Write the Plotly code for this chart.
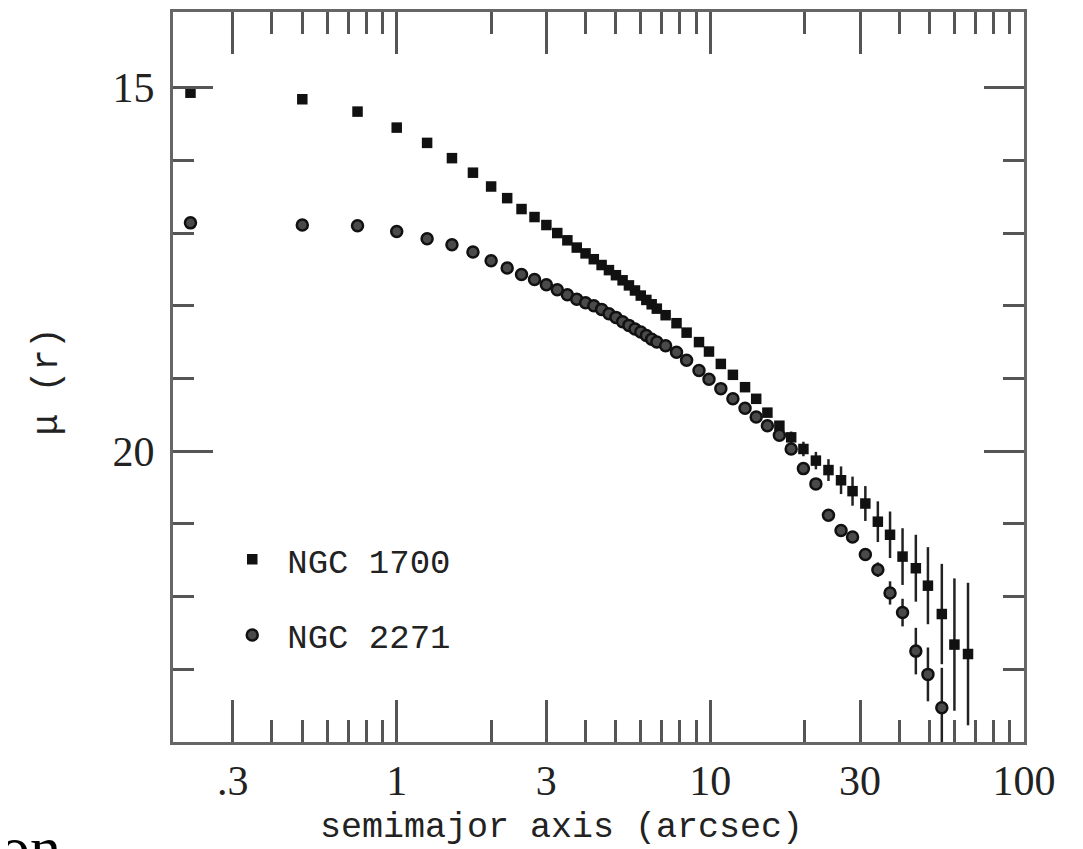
import plotly.graph_objects as go

# ---------------- data ----------------
radius_1700 = [0.22, 0.5, 0.75, 1.0, 1.25, 1.5, 1.75, 2.0, 2.25, 2.5, 2.75, 3.0, 3.25,
               3.5, 3.75, 4.0, 4.25, 4.5, 4.75, 5.0, 5.25, 5.5, 5.75, 6.0, 6.25, 6.5, 6.75,
               7.2, 7.8, 8.4, 9.2, 9.9, 10.8, 11.8, 12.9, 14.0, 15.2, 16.6, 18.1, 19.8,
               21.7, 23.8, 26.1, 28.4, 31.2, 34.2, 37.4, 41.0, 45.2, 49.4, 54.7, 60.0, 66.3]
mu_1700 = [15.07, 15.16, 15.33, 15.55, 15.76, 15.97, 16.17, 16.36, 16.52, 16.67, 16.78, 16.89, 17.00,
           17.10, 17.20, 17.28, 17.36, 17.44, 17.51, 17.58, 17.65, 17.72, 17.79, 17.86, 17.92, 17.98, 18.04,
           18.13, 18.24, 18.37, 18.50, 18.63, 18.80, 18.95, 19.12, 19.28, 19.47, 19.65, 19.81, 19.97,
           20.13, 20.26, 20.40, 20.55, 20.72, 20.97, 21.15, 21.45, 21.61, 21.85, 22.24, 22.66, 22.79]
err_1700 = [0, 0, 0, 0, 0, 0, 0, 0, 0, 0, 0, 0, 0,
            0, 0, 0, 0, 0, 0, 0, 0, 0, 0, 0, 0, 0, 0,
            0, 0, 0, 0, 0, 0, 0, 0, 0, 0, 0.06, 0.08, 0.10,
            0.12, 0.15, 0.19, 0.20, 0.24, 0.28, 0.32, 0.39, 0.46, 0.53, 0.69, 0.91, 0.98]

radius_2271 = [0.22, 0.5, 0.75, 1.0, 1.25, 1.5, 1.75, 2.0, 2.25, 2.5, 2.75, 3.0, 3.25,
               3.5, 3.75, 4.0, 4.25, 4.5, 4.75, 5.0, 5.25, 5.5, 5.75, 6.0, 6.25, 6.5, 6.75,
               7.2, 7.8, 8.4, 9.2, 9.9, 10.8, 11.8, 12.9, 14.0, 15.2, 16.6, 18.1, 19.8,
               21.7, 23.8, 26.1, 28.4, 31.2, 34.2, 37.4, 41.0, 45.2, 49.4, 54.7]
mu_2271 = [16.86, 16.89, 16.90, 16.98, 17.08, 17.16, 17.26, 17.38, 17.48, 17.57, 17.64, 17.71, 17.78,
           17.85, 17.91, 17.96, 18.00, 18.05, 18.11, 18.16, 18.22, 18.27, 18.32, 18.36, 18.41, 18.46, 18.50,
           18.55, 18.64, 18.75, 18.89, 19.01, 19.14, 19.28, 19.41, 19.53, 19.65, 19.78, 19.97, 20.24,
           20.45, 20.88, 21.09, 21.18, 21.42, 21.63, 21.95, 22.22, 22.75, 23.07, 23.53]
err_2271 = [0, 0, 0, 0, 0, 0, 0, 0, 0, 0, 0, 0, 0,
            0, 0, 0, 0, 0, 0, 0, 0, 0, 0, 0, 0, 0, 0,
            0, 0, 0, 0, 0, 0, 0, 0, 0, 0, 0, 0, 0,
            0, 0, 0, 0, 0.06, 0.10, 0.16, 0.19, 0.32, 0.37, 0.55]

x_tick_vals = [0.3, 1, 3, 10, 30, 100]
x_tick_text = [".3", "1", "3", "10", "30", "100"]
x_minor_vals = [0.4, 0.5, 0.6, 0.7, 0.8, 0.9, 2, 4, 5, 6, 7, 8, 9, 20, 40, 50, 60, 70, 80, 90]
y_tick_vals = [15, 20]
y_tick_text = ["15", "20"]
y_minor_vals = [16, 17, 18, 19, 21, 22, 23]

# ---------------- figure ----------------
INK = "#111111"
AXC = "#666666"
TICKC = "#555555"
SERIF = "Liberation Serif"
MONO = "Liberation Mono"

# the page body adds an 8 px offset, so margins are reduced by 8 px
fig = go.Figure()

fig.add_trace(go.Scatter(
    x=radius_1700, y=mu_1700, mode="markers", name="NGC 1700",
    marker=dict(symbol="square", size=10.5, color=INK, line=dict(width=0)),
    error_y=dict(type="data", array=err_1700, visible=True, thickness=2.5, width=0, color="#222222"),
    legend="legend",
))
fig.add_trace(go.Scatter(
    x=radius_2271, y=mu_2271, mode="markers", name="NGC 2271",
    marker=dict(symbol="circle", size=11, color="#4a4a4a", line=dict(width=2.5, color=INK)),
    error_y=dict(type="data", array=err_2271, visible=True, thickness=2.5, width=0, color="#222222"),
    legend="legend2",
))

legend_common = dict(
    font=dict(family=MONO, size=34, color="#222222"),
    bgcolor="rgba(0,0,0,0)", borderwidth=0, itemwidth=60,
    xanchor="left", yanchor="middle",
)

fig.update_layout(
    width=1083, height=849,
    margin=dict(l=165, r=67, t=1, b=115),
    paper_bgcolor="white", plot_bgcolor="white",
    showlegend=True,
    legend=dict(x=0.052, y=(742 - 559) / 733, **legend_common),
    legend2=dict(x=0.052, y=(742 - 635) / 733, **legend_common),
    xaxis=dict(
        type="log", range=[-0.7133, 2.0],
        tickmode="array", tickvals=x_tick_vals, ticktext=x_tick_text,
        ticks="inside", ticklen=42, tickwidth=2.5, tickcolor=TICKC,
        minor=dict(tickmode="array", tickvals=x_minor_vals, ticks="inside",
                   ticklen=22, tickwidth=2.5, tickcolor=TICKC, showgrid=False),
        showline=True, linecolor=AXC, linewidth=3, mirror="ticks",
        showgrid=False, zeroline=False,
        tickfont=dict(family=SERIF, size=42, color="#222222"),
    ),
    yaxis=dict(
        range=[24.0, 13.96],
        tickmode="array", tickvals=y_tick_vals, ticktext=y_tick_text,
        ticks="inside", ticklen=40, tickwidth=2.5, tickcolor=TICKC,
        minor=dict(tickmode="array", tickvals=y_minor_vals, ticks="inside",
                   ticklen=21, tickwidth=2.5, tickcolor=TICKC, showgrid=False),
        showline=True, linecolor=AXC, linewidth=3, mirror="ticks",
        showgrid=False, zeroline=False,
        ticklabelstandoff=7,
        tickfont=dict(family=SERIF, size=42, color="#222222"),
    ),
    annotations=[
        dict(text="semimajor axis (arcsec)", xref="paper", yref="paper",
             x=(561 - 173) / 851, y=(742 - 828) / 733, xanchor="center", yanchor="middle",
             showarrow=False, font=dict(family=MONO, size=35, color="#222222")),
        dict(text="μ (r)", xref="paper", yref="paper", textangle=-90,
             x=(47 - 173) / 851, y=(742 - 380) / 733, xanchor="center", yanchor="middle",
             showarrow=False, font=dict(family=MONO, size=36, color="#222222")),
        dict(text="on", xref="paper", yref="paper",
             x=(-3 - 173) / 851, y=(742 - 812) / 733, xanchor="left", yanchor="top",
             showarrow=False, font=dict(family=SERIF, size=62, color="#000000")),
    ],
)

fig.write_html("out.html")
